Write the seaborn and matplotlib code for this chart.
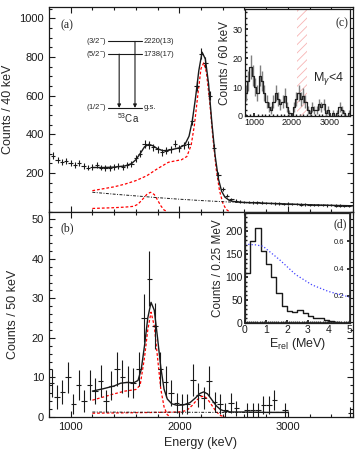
import matplotlib
matplotlib.use('Agg')
import matplotlib.pyplot as plt
from matplotlib.ticker import MultipleLocator
import seaborn as sns
import pandas as pd
import numpy as np

# ---- panel (a): 40 keV bins ----
a_energy = np.arange(840, 3600, 40)
a_counts = [290, 268, 258, 262, 252, 242, 250, 236, 228, 230,
            242, 228, 226, 225, 230, 234, 232, 240, 248, 275,
            300, 350, 345, 333, 322, 308, 316, 322, 352, 328,
            342, 348, 470, 650, 818, 770, 600, 330, 190, 118,
            82, 64, 56, 52, 50, 49, 47, 48, 46, 44,
            45, 42, 43, 40, 41, 38, 39, 36, 37, 35,
            34, 35, 33, 32, 33, 31, 31, 30, 30]
a_err = [17, 16, 16, 16, 16, 16, 16, 15, 15, 15,
         16, 15, 15, 15, 15, 15, 15, 15, 16, 17,
         17, 19, 19, 18, 18, 18, 18, 18, 19, 18,
         18, 19, 22, 26, 29, 28, 25, 18, 14, 11,
         9, 8, 8, 7, 7, 7, 7, 7, 7, 7,
         7, 6, 7, 6, 6, 6, 6, 6, 6, 6,
         6, 6, 6, 6, 6, 6, 6, 5, 5]

a_fit_e = [1200, 1300, 1400, 1500, 1560, 1600, 1640, 1680, 1720, 1760, 1800, 1850,
           1900, 1950, 2000, 2050, 2090, 2120, 2150, 2180, 2210, 2240, 2270, 2300,
           2330, 2360, 2390, 2420, 2460, 2500, 2600, 2800, 3000, 3200, 3400, 3600]
a_fit_tot = [228, 228, 230, 236, 248, 268, 300, 335, 348, 340, 325, 315,
             317, 323, 330, 345, 390, 470, 590, 730, 825, 790, 660, 460,
             290, 170, 105, 75, 58, 52, 47, 43, 39, 35, 32, 30]
a_r2220_e = [1200, 1300, 1400, 1500, 1600, 1700, 1800, 1900, 1960, 2020, 2070, 2110,
             2140, 2170, 2200, 2225, 2250, 2280, 2310, 2340, 2370, 2400, 2430, 2460]
a_r2220 = [108, 118, 128, 142, 160, 185, 222, 255, 262, 268, 285, 345,
           450, 600, 740, 770, 720, 570, 380, 220, 110, 45, 12, 0]
a_r1738_e = [1200, 1300, 1400, 1500, 1580, 1620, 1660, 1700, 1735, 1770, 1800, 1830, 1860, 1890]
a_r1738 = [16, 18, 20, 23, 27, 38, 62, 88, 100, 88, 60, 30, 8, 0]
a_bg_e = [1200, 1400, 1600, 1800, 2000, 2200, 2400, 2600, 2800, 3000, 3200, 3400, 3600]
a_bg = [100, 90, 81, 72, 64, 57, 51, 46, 42, 38, 35, 32, 30]

# ---- panel (b): 50 keV bins ----
b_energy = np.arange(825, 3600, 50)
b_counts = [8.5, 5, 6.2, 10, 3.2, 8.1, 4, 8.1, 6.5, 9,
            4, 7.9, 12.1, 10.2, 8.9, 8.5, 12.1, 25, 35, 23,
            12.1, 8.9, 6.1, 3.5, 3.2, 3.2, 9.3, 5.5, 4.7, 9,
            3.8, 3.2, 1.7, 3.4, 2.1, 0, 1.7, 1.7, 1.7, 3.0,
            3.0, 4.2, 0, 1.7, 0, 0, 0, 0, 0, 0,
            0, 0, 0, 0, 0, 1.0]
b_err = [3.5, 3, 3, 4, 2.5, 3.8, 2.8, 3.8, 3.3, 4,
         2.8, 3.7, 4.4, 4.2, 4, 3.8, 4.4, 6, 7, 5.8,
         4.4, 4, 3.3, 2.5, 2.5, 2.5, 4, 3, 2.8, 3.8,
         2.5, 2.5, 1.8, 2.5, 2, 0, 1.8, 1.8, 1.8, 2.3,
         2.3, 2.6, 0, 1.8, 0, 0, 0, 0, 0, 0,
         0, 0, 0, 0, 0, 1.4]

b_fit_e = [1200, 1300, 1400, 1460, 1520, 1580, 1620, 1650, 1680, 1710, 1740, 1770,
           1800, 1830, 1860, 1890, 1930, 1980, 2040, 2100, 2150, 2190, 2225, 2260,
           2300, 2340, 2380, 2420, 2480, 2600, 2800, 3000]
b_fit_tot = [6.5, 7.1, 7.8, 8.5, 8.7, 8.6, 9.2, 12, 18, 25, 29, 27,
             20, 12.5, 7, 4.5, 3.3, 2.9, 3.0, 3.6, 4.8, 5.9, 6.3, 5.8,
             4.3, 2.8, 1.8, 1.4, 1.2, 1.2, 1.1, 1.1]
b_r1738_e = [1200, 1300, 1400, 1500, 1600, 1640, 1680, 1710, 1740, 1770, 1800, 1830, 1860, 1890, 1920]
b_r1738 = [4.2, 5.0, 5.8, 6.5, 6.9, 8.0, 15, 22, 26.5, 23, 15, 7, 2.5, 0.5, 0]
b_r2220_e = [1200, 1500, 1800, 2000, 2070, 2120, 2160, 2200, 2230, 2260, 2300, 2340, 2380, 2420]
b_r2220 = [0.9, 1.0, 1.1, 1.2, 1.6, 2.9, 4.2, 5.1, 5.2, 4.5, 2.9, 1.3, 0.3, 0]
b_bg_e = [1200, 1600, 2000, 2400, 2800, 3000]
b_bg = [1.2, 1.15, 1.15, 1.1, 1.1, 1.1]

# ---- inset (c): 60 keV bins, M_gamma < 4 ----
c_edges = list(range(760, 3530, 60))
c_counts = [8, 12, 17, 14, 10, 8, 14, 12, 8, 5,
            3, 2, 5, 8, 6, 4, 5, 7, 3, 1,
            0, 3, 6, 8, 6, 7, 5, 2, 1, 3,
            2, 2, 4, 3, 4, 1, 2, 0, 1, 0,
            1, 3, 2, 1, 0, 1]
c_err = [2.8, 3.5, 4.1, 3.7, 3.2, 2.8, 3.7, 3.5, 2.8, 2.2,
         1.7, 1.4, 2.2, 2.8, 2.4, 2.0, 2.2, 2.6, 1.7, 1.0,
         0, 1.7, 2.4, 2.8, 2.4, 2.6, 2.2, 1.4, 1.0, 1.7,
         1.4, 1.4, 2.0, 1.7, 2.0, 1.0, 1.4, 0, 1.0, 0,
         1.0, 1.7, 1.4, 1.0, 0, 1.0]
c_gate = [2120, 2400]

# ---- inset (d): relative energy, 0.25 MeV bins ----
d_edges = [0, 0.25, 0.5, 0.75, 1.0, 1.25, 1.5, 1.75, 2.0, 2.25, 2.5,
           2.75, 3.0, 3.25, 3.5, 3.75, 4.0, 4.25, 4.5, 4.75, 5.0]
d_counts = [110, 178, 208, 157, 128, 100, 65, 38, 27, 25,
            28, 22, 15, 10, 10, 6, 4, 3, 1, 0]
d_eff_e = [0, 0.5, 0.86, 1.64, 2.42, 3.2, 3.98, 5.0]
d_eff = [0.58, 0.575, 0.565, 0.467, 0.356, 0.28, 0.232, 0.19]

# level scheme
lvl_left = ['(3/2$^{-}$)', '(5/2$^{-}$)', '(1/2$^{-}$)']
lvl_right = ['2220(13)', '1738(17)', 'g.s.']

sns.set_theme(style='ticks')
plt.rcParams['font.family'] = ['Liberation Sans', 'DejaVu Sans']
plt.rcParams['mathtext.fontset'] = 'custom'
plt.rcParams['mathtext.rm'] = 'Liberation Sans'
plt.rcParams['mathtext.it'] = 'Liberation Sans:italic'
plt.rcParams['hatch.linewidth'] = 0.6
serif = ['Liberation Serif', 'DejaVu Serif']

red_dash = (0, (2.2, 1.6))
dashdot = (0, (3, 1.5, 1, 1.5))

fig = plt.figure(figsize=(3.57, 4.53), dpi=100)
ax_a = fig.add_axes([0.137, 0.533, 0.852, 0.452])
ax_b = fig.add_axes([0.137, 0.080, 0.852, 0.453])


def style_main(ax):
    ax.set_xlim(800, 3600)
    ax.xaxis.set_major_locator(MultipleLocator(1000))
    ax.xaxis.set_minor_locator(MultipleLocator(200))
    ax.tick_params(which='both', direction='in', top=True, right=True,
                   labelsize=8, width=0.8, colors='k')
    ax.tick_params(which='major', length=4)
    ax.tick_params(which='minor', length=2.2)
    for s in ax.spines.values():
        s.set_linewidth(0.9)
        s.set_color('k')


def style_inset(ax):
    ax.set_facecolor('white')
    ax.tick_params(which='both', direction='in', pad=1.5, colors='k')
    ax.tick_params(which='major', length=2.5)
    ax.tick_params(which='minor', length=1.3)
    for s in ax.spines.values():
        s.set_linewidth(0.9)
        s.set_color('k')


# (a)
ax_a.errorbar(a_energy, a_counts, xerr=20, yerr=a_err, fmt='none',
              ecolor='k', elinewidth=0.8, zorder=3)
sns.lineplot(x=a_r2220_e, y=a_r2220, ax=ax_a, color='red', lw=0.9, linestyle=red_dash)
sns.lineplot(x=a_r1738_e, y=a_r1738, ax=ax_a, color='red', lw=0.9, linestyle=red_dash)
sns.lineplot(x=a_bg_e, y=a_bg, ax=ax_a, color='k', lw=0.7, linestyle=dashdot)
sns.lineplot(x=a_fit_e, y=a_fit_tot, ax=ax_a, color='k', lw=1.0)
style_main(ax_a)
ax_a.set_ylim(0, 1060)
ax_a.set_yticks([200, 400, 600, 800, 1000])
ax_a.yaxis.set_minor_locator(MultipleLocator(50))
ax_a.tick_params(axis='x', labelbottom=False)
ax_a.set_ylabel('Counts / 40 keV', fontsize=9, labelpad=4)
ax_a.set_xlabel('')
ax_a.text(0.06, 0.91, '(a)', transform=ax_a.transAxes, fontsize=8.5,
          family=serif, ha='center', va='center')

# level scheme
ys = [0.831, 0.769, 0.506]
for y, l, r in zip(ys, lvl_left, lvl_right):
    ax_a.plot([0.194, 0.305], [y, y], transform=ax_a.transAxes, color='k', lw=0.8)
    ax_a.text(0.191, y, l, transform=ax_a.transAxes, fontsize=5.5, ha='right', va='center')
    ax_a.text(0.3125, y, r, transform=ax_a.transAxes, fontsize=5.5, ha='left', va='center')
for x, y0 in [(0.231, ys[1]), (0.283, ys[0])]:
    ax_a.annotate('', xy=(x, ys[2]), xytext=(x, y0), xycoords='axes fraction',
                  arrowprops=dict(arrowstyle='-|>', color='k', lw=0.8,
                                  mutation_scale=5, shrinkA=0, shrinkB=0))
ax_a.text(0.26, 0.455, '$^{53}$Ca', transform=ax_a.transAxes, fontsize=7,
          ha='center', va='center')

# (b)
bc = np.array(b_counts)
mask = bc > 0
ax_b.errorbar(b_energy[mask], bc[mask], xerr=25, yerr=np.array(b_err)[mask], fmt='none',
              ecolor='k', elinewidth=0.8, zorder=3)
sns.lineplot(x=b_r1738_e, y=b_r1738, ax=ax_b, color='red', lw=0.9, linestyle=red_dash)
sns.lineplot(x=b_r2220_e, y=b_r2220, ax=ax_b, color='red', lw=0.9, linestyle=red_dash)
sns.lineplot(x=b_bg_e, y=b_bg, ax=ax_b, color='k', lw=0.7, linestyle=dashdot)
sns.lineplot(x=b_fit_e, y=b_fit_tot, ax=ax_b, color='k', lw=1.0)
style_main(ax_b)
ax_b.set_ylim(0, 52)
ax_b.set_yticks([0, 10, 20, 30, 40, 50])
ax_b.yaxis.set_minor_locator(MultipleLocator(2))
ax_b.set_ylabel('Counts / 50 keV', fontsize=9, labelpad=9)
ax_b.set_xlabel('Energy (keV)', fontsize=9, labelpad=4)
ax_b.text(0.06, 0.92, '(b)', transform=ax_b.transAxes, fontsize=8.5,
          family=serif, ha='center', va='center')

# (c)
ax_c = fig.add_axes([0.686, 0.744, 0.294, 0.236])
style_inset(ax_c)
ax_c.axvspan(c_gate[0], c_gate[1], facecolor='none', edgecolor='#f7b4b4',
             hatch='////', lw=0)
c_df = pd.DataFrame({'e': [x + 30 for x in c_edges[:-1]], 'n': c_counts, 'err': c_err})
ax_c.errorbar(c_df['e'], c_df['n'], yerr=c_df['err'], fmt='none', ecolor='#808080',
              elinewidth=1.0, zorder=2)
sns.histplot(data=c_df, x='e', weights='n', bins=c_edges, element='step', fill=False,
             color='#222222', lw=0.9, ax=ax_c)
ax_c.set_xlim(760, 3520)
ax_c.set_ylim(0, 37)
ax_c.set_xticks([1000, 2000, 3000])
ax_c.xaxis.set_minor_locator(MultipleLocator(100))
ax_c.set_yticks([0, 10, 20, 30])
ax_c.yaxis.set_minor_locator(MultipleLocator(2))
ax_c.tick_params(labelsize=6.5)
ax_c.set_xlabel('')
ax_c.set_ylabel('Counts / 60 keV', fontsize=8.5, labelpad=1)
ax_c.text(0.92, 0.87, '(c)', transform=ax_c.transAxes, fontsize=8.5,
          family=serif, ha='center', va='center')
ax_c.text(0.80, 0.355, r'M$_{\gamma}$<4', transform=ax_c.transAxes, fontsize=9,
          ha='center', va='center')

# (d)
ax_d = fig.add_axes([0.686, 0.287, 0.294, 0.243])
style_inset(ax_d)
d_df = pd.DataFrame({'e': [x + 0.125 for x in d_edges[:-1]], 'n': d_counts})
sns.histplot(data=d_df, x='e', weights='n', bins=d_edges, element='step', fill=False,
             color='k', lw=1.0, ax=ax_d)
ax_d.set_xlim(0, 5)
ax_d.set_ylim(0, 240)
ax_d.set_xticks([0, 1, 2, 3, 4, 5])
ax_d.xaxis.set_minor_locator(MultipleLocator(0.1))
ax_d.set_yticks([0, 50, 100, 150, 200])
ax_d.yaxis.set_minor_locator(MultipleLocator(10))
ax_d.tick_params(labelsize=7.5)
ax_d.set_xlabel(r'E$_{\rm rel}$ (MeV)', fontsize=9, labelpad=1)
ax_d.set_ylabel('Counts / 0.25 MeV', fontsize=8.5, labelpad=1)
ax_d.text(0.91, 0.90, '(d)', transform=ax_d.transAxes, fontsize=8.5,
          family=serif, ha='center', va='center')

ax_e = ax_d.twinx()
sns.lineplot(x=d_eff_e, y=d_eff, ax=ax_e, color='#4444ff', lw=0.9, linestyle=':')
ax_e.set_ylim(0, 0.81)
ax_e.set_yticks([0.2, 0.4, 0.6])
ax_e.set_yticklabels(['0.2', '0.4', '0.6'])
ax_e.tick_params(axis='y', direction='in', length=2.5, labelsize=5.5, pad=-4, colors='k')
for lbl in ax_e.get_yticklabels():
    lbl.set_ha('right')
ax_e.set_ylabel('')

fig.savefig('out.png', dpi=100)
